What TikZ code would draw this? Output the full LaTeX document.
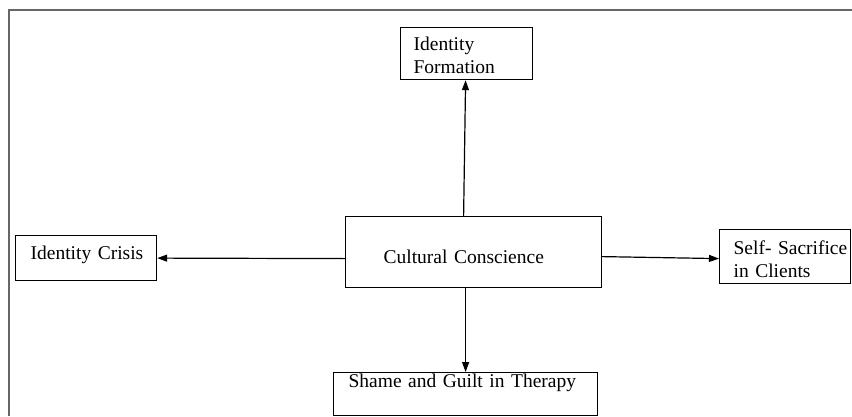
\documentclass[tikz,border=0pt]{standalone}
\usepackage{fontspec}
\setmainfont{Liberation Serif}
\usetikzlibrary{arrows.meta}
\begin{document}
\begin{tikzpicture}[x=1pt,y=-1pt,
  box/.style={draw=black, line width=1.2pt, rectangle, anchor=north west,
    align=left, inner ysep=0pt, font=\fontsize{19.5}{23}\selectfont},
  arr/.style={line width=1.2pt, -{Triangle[length=10pt,width=7pt]}},
  framerule/.style={draw=black!60, line width=2pt}]
\useasboundingbox (0,0) rectangle (852,416);

% open frame: top and left edges only
\draw[framerule] (9,416) -- (9,10) -- (852,10);

% concept boxes (text height/depth fix the baseline inside each box;
% each line is kept whole with \mbox)
\node[box, text width=106pt, inner xsep=13pt, text height=23pt, text depth=29pt]
  (form) at (400,27) {\mbox{Identity}\\\mbox{Formation}};
\node[box, text width=111pt, inner xsep=15pt, text height=24pt, text depth=21pt]
  (crisis) at (15,235) {\mbox{Identity Crisis}};
\node[box, text width=180pt, inner xsep=38pt, text height=47pt, text depth=24pt]
  (cult) at (345,216) {\mbox{Cultural Conscience}};
\node[box, text width=103pt, inner xsep=14pt, text height=25pt, text depth=29pt]
  (self) at (719,229) {\mbox{Self- Sacrifice}\\\mbox{in Clients}};
\node[box, text width=234pt, inner xsep=15pt, text height=15pt, text depth=28pt]
  (shame) at (333,372) {\mbox{Shame and Guilt in Therapy}};

% connectors from the central concept
\draw[arr] ([xshift=-10pt]cult.north) -- ([xshift=-1pt]form.south);
\draw[arr] ([yshift=-6.5pt]cult.west) -- (crisis.east);
\draw[arr] ([yshift=-4.5pt]cult.east) -- ([yshift=-2pt]self.west);
\draw[arr] ([xshift=-8pt]cult.south) -- (shame.north);
\end{tikzpicture}
\end{document}
